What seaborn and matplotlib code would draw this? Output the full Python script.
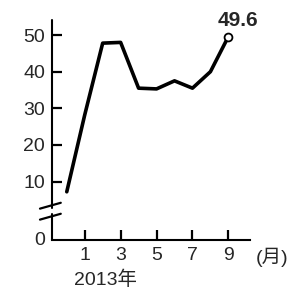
import seaborn as sns
import matplotlib

matplotlib.use("Agg")
import matplotlib.pyplot as plt
import pandas as pd

# 数据：2012年12月(记为0) ~ 2013年9月
months = [0, 1, 2, 3, 4, 5, 6, 7, 8, 9]
values = [7.2, 28.2, 47.8, 48.0, 35.5, 35.3, 37.5, 35.5, 40.0, 49.6]
x_ticks = [1, 3, 5, 7, 9]
y_ticks = [10, 20, 30, 40, 50]
zero_pos = -6  # 断轴后 0 的位置
last_label = "49.6"

sns.set_style("ticks")
plt.rcParams["font.family"] = ["Liberation Sans", "Noto Sans CJK SC", "DejaVu Sans"]

df = pd.DataFrame({"month": months, "value": values})

fig = plt.figure(figsize=(2.93, 2.95), dpi=100)
ax = fig.add_axes([0.177, 0.186, 0.676, 0.746])

sns.lineplot(data=df, x="month", y="value", ax=ax, color="black", linewidth=2.6)
sns.scatterplot(
    data=df.iloc[[-1]], x="month", y="value", ax=ax,
    color="white", edgecolor="black", linewidth=1.3, s=32, zorder=5,
)
ax.annotate(
    last_label, (months[-1], values[-1]), xytext=(7, 5), textcoords="offset points",
    ha="center", va="bottom", fontsize=15, fontweight="bold",
)

ax.set_xlim(-0.83, 10.2)
ax.set_ylim(zero_pos, 54.1)
ax.set_xticks(x_ticks)
ax.set_xticklabels([str(m) for m in x_ticks], fontsize=14)
ax.set_yticks(y_ticks)
ax.set_yticklabels([str(v) for v in y_ticks], fontsize=14)
# 刻度线朝内
ax.tick_params(axis="both", direction="in", length=7, width=1.6, color="black", pad=5)
ax.set_xlabel("")
ax.set_ylabel("")
ax.text(-0.035, zero_pos, "0", transform=ax.get_yaxis_transform(), ha="right", va="center", fontsize=14)

for s in ["top", "right", "left"]:
    ax.spines[s].set_visible(False)
ax.spines["bottom"].set_linewidth(1.5)
ax.spines["bottom"].set_color("black")

# 左轴（带断轴）
ytr = ax.get_yaxis_transform()
ax.plot([0, 0], [zero_pos, 1.0], transform=ytr, color="black", lw=1.5, clip_on=False)
ax.plot([0, 0], [2.9, 54.1], transform=ytr, color="black", lw=1.5, clip_on=False)
for yb in [0.4, 3.4]:
    ax.plot([-0.06, 0.045], [yb - 0.8, yb + 0.8], transform=ytr, color="black", lw=1.6, clip_on=False)

ax.text(1.03, -0.035, "(月)", transform=ax.transAxes, ha="left", va="top", fontsize=14)
ax.text(0.27, -0.14, "2013年", transform=ax.transAxes, ha="center", va="top", fontsize=14)

plt.savefig("out.png", dpi=100)
plt.close(fig)
